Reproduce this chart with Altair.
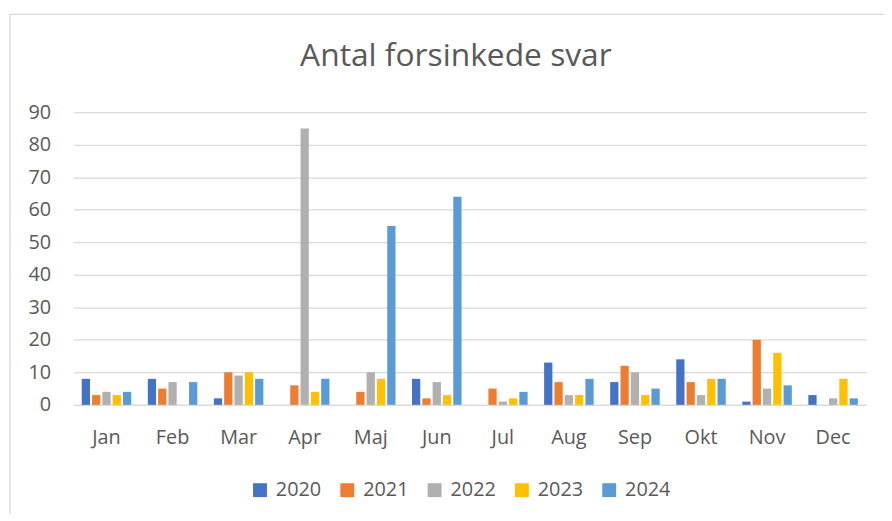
import altair as alt
import pandas as pd

months = ["Jan", "Feb", "Mar", "Apr", "Maj", "Jun", "Jul", "Aug", "Sep", "Okt", "Nov", "Dec"]
years = ["2020", "2021", "2022", "2023", "2024"]
v2020 = [8, 8, 2, 0, 0, 8, 0, 13, 7, 14, 1, 3]
v2021 = [3, 5, 10, 6, 4, 2, 5, 7, 12, 7, 20, 0]
v2022 = [4, 7, 9, 85, 10, 7, 1, 3, 10, 3, 5, 2]
v2023 = [3, 0, 10, 4, 8, 3, 2, 3, 3, 8, 16, 8]
v2024 = [4, 7, 8, 8, 55, 64, 4, 8, 5, 8, 6, 2]
colors = ["#4472C4", "#ED7D31", "#B0B0B0", "#FFC000", "#5B9BD5"]

series = [v2020, v2021, v2022, v2023, v2024]
rows = []
for y, vals in zip(years, series):
    for m, v in zip(months, vals):
        rows.append({"Måned": m, "År": y, "Antal": v})
df = pd.DataFrame(rows)

FONT = "Open Sans"
TXT = "#595959"
GRID = "#D9D9D9"

bars = alt.Chart(df).mark_bar().encode(
    x=alt.X("Måned:N", sort=months, title=None,
            scale=alt.Scale(paddingInner=0.25, paddingOuter=0.125),
            axis=alt.Axis(labelAngle=0, ticks=False, labelPadding=23, labelFontSize=20,
                          labelColor=TXT, labelFont=FONT, domainColor=GRID, domainWidth=1.3)),
    xOffset=alt.XOffset("År:N", sort=years, scale=alt.Scale(paddingInner=0.2, paddingOuter=0)),
    y=alt.Y("Antal:Q", title=None,
            scale=alt.Scale(domain=[0, 90], nice=False),
            axis=alt.Axis(values=list(range(0, 91, 10)), ticks=False, domain=False, labelPadding=23,
                          labelFontSize=20, labelColor=TXT, labelFont=FONT,
                          gridColor=GRID, gridWidth=1.3)),
    color=alt.Color("År:N", sort=years, scale=alt.Scale(domain=years, range=colors),
                    legend=alt.Legend(title=None, orient="none", direction="horizontal",
                                      legendX=178, legendY=371, symbolType="square",
                                      symbolSize=196, symbolStrokeWidth=0, symbolOpacity=1,
                                      labelFontSize=20, labelColor=TXT, labelFont=FONT,
                                      labelOffset=6, columnPadding=16)),
)

frame = alt.Chart(alt.Data(values=[{"a": 1}])).mark_rect(
    fill=None, stroke=GRID, strokeWidth=1.3
).encode(x=alt.value(-64), x2=alt.value(840), y=alt.value(-98.5), y2=alt.value(430))

chart = alt.layer(frame, bars).properties(
    width=799, height=295,
    padding={"left": 66, "top": 103, "right": 18, "bottom": 108},
    autosize=alt.AutoSizeParams(type="none"),
    title=alt.TitleParams("Antal forsinkede svar", fontSize=32, font=FONT, color=TXT,
                          fontWeight="normal", anchor="middle", dx=-14, offset=0, dy=85,
                          frame="group", baseline="alphabetic"),
).configure_view(stroke=None)

chart.save("out.html", embed_options={"renderer": "svg", "actions": False})
